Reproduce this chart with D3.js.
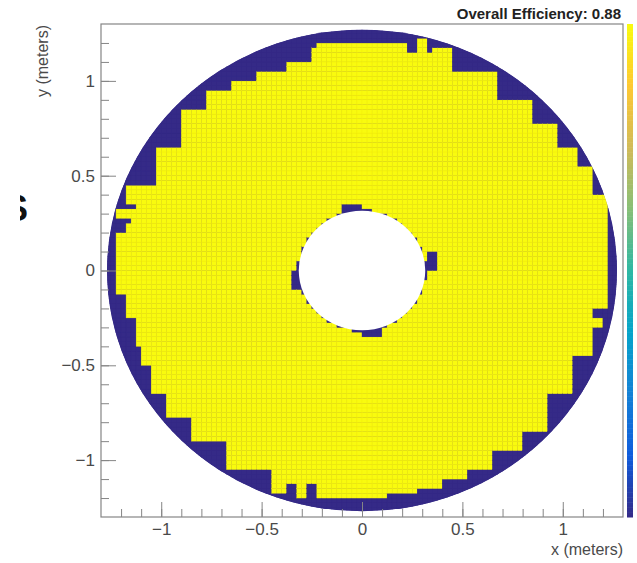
<!DOCTYPE html>
<html>
<head>
<meta charset="utf-8">
<script src="https://cdn.jsdelivr.net/npm/d3@7"></script>
<style>
body { margin: 0; background: #fff; }
svg { display: block; }
text { font-family: "Liberation Sans", Arial, Helvetica, sans-serif; }
</style>
</head>
<body>
<div id="chart"></div>
<script>
// detector efficiency map, square bins of 0.025 m
var binSize = 0.025;
var rOuter = 1.27;
var rInner = 0.315;
var overallEff = 0.88;

// left edge of the efficient region: band top (m) -> left x (m)
var leftTop = [1.218, 1.203, 1.166, 1.097, 1.050, 1.007, 0.955, 0.839, 0.654, 0.454, 0.359, 0.322, 0.280,
  0.243, 0.200, -0.127, -0.258, -0.390, -0.512, -0.643, -0.775, -0.907, -1.039, -1.166, -1.192];
var leftX = [0.279, -0.219, -0.249, -0.383, -0.518, -0.647, -0.782, -0.906, -1.031, -1.165, -1.130, -1.215, -1.140,
  -1.180, -1.215, -1.170, -1.130, -1.091, -1.046, -0.971, -0.842, -0.667, -0.448, -0.324, -0.184];

// right edge of the efficient region: band top (m) -> right x (m)
var rightTop = [1.218, 1.166, 1.050, 0.902, 0.781, 0.654, 0.549, 0.411, -0.206, -0.248, -0.311,
  -0.454, -0.654, -0.849, -0.960, -1.050, -1.092, -1.139, -1.171];
var rightX = [0.329, 0.453, 0.677, 0.842, 0.976, 1.066, 1.160, 1.225, 1.140, 1.210, 1.150,
  1.061, 0.926, 0.792, 0.662, 0.528, 0.393, 0.264, 0.129];
var liveBottom = -1.208;

// dead patches inside the efficient region [x0, x1, y0, y1] (m)
var deadPatches = [
  [0.219, 0.279, 1.139, 1.203],
  [0.329, 0.354, 1.139, 1.166],
  [-0.369, -0.324, -1.192, -1.129],
  [-0.274, -0.234, -1.192, -1.134],
  [-0.095, -0.010, 0.311, 0.359],
  [0.324, 0.364, 0.005, 0.100],
  [-0.349, -0.309, -0.100, -0.011],
  [0.005, 0.100, -0.353, -0.311]
];

// ROOT kBird palette
var birdColors = ["#352a87", "#0f5cdd", "#1481d6", "#06a4ca", "#2eb7a4", "#87bf77", "#d1bb59", "#fec832", "#f9fb0e"];

var xMajorTicks = [-1, -0.5, 0, 0.5, 1];
var yMajorTicks = [-1, -0.5, 0, 0.5, 1];
var minorTicks = d3.range(-12, 13).map(function(d) { return d / 10; });

var width = 637, height = 563;

var svg = d3.select('#chart')
  .append('svg')
  .attr('width', width)
  .attr('height', height);

var x = d3.scaleLinear().domain([-1.3, 1.3]).range([101, 623]);
var y = d3.scaleLinear().domain([-1.3, 1.3]).range([517, 24]);
var color = d3.scaleSequential(d3.piecewise(d3.interpolateRgb, birdColors)).domain([0, 1]);

function bandValue(tops, xs, yy) {
  for (var k = 0; k < tops.length; k++) {
    var next = (k + 1 < tops.length) ? tops[k + 1] : liveBottom;
    if (yy <= tops[k] && yy > next) return xs[k];
  }
  return null;
}

function clamp(v, a, b) { return Math.max(a, Math.min(b, v)); }

// build the bins
var cells = [];
var nBins = Math.round(2.6 / binSize);
for (var i = 0; i < nBins; i++) {
  for (var j = 0; j < nBins; j++) {
    var x0 = -1.3 + i * binSize, x1 = x0 + binSize;
    var y0 = -1.3 + j * binSize, y1 = y0 + binSize;
    var near = Math.hypot(clamp(0, x0, x1), clamp(0, y0, y1));
    var far = Math.max(Math.hypot(x0, y0), Math.hypot(x1, y0), Math.hypot(x0, y1), Math.hypot(x1, y1));
    if (near > rOuter || far < rInner) continue;
    var cx = x0 + binSize / 2, cy = y0 + binSize / 2;
    var eff = 0;
    if (Math.hypot(cx, cy) >= rInner) {
      var xl = bandValue(leftTop, leftX, cy);
      var xr = bandValue(rightTop, rightX, cy);
      if (xl !== null && xr !== null && cx >= xl && cx <= xr) eff = 1;
      deadPatches.forEach(function(p) {
        if (cx > p[0] && cx < p[1] && cy > p[2] && cy < p[3]) eff = 0;
      });
    }
    cells.push({x0: x0, x1: x1, y0: y0, y1: y1, eff: eff});
  }
}

// clip to the detector disc
var defs = svg.append('defs');
defs.append('clipPath').attr('id', 'disc')
  .append('ellipse')
    .attr('cx', x(0)).attr('cy', y(0))
    .attr('rx', x(rOuter) - x(0)).attr('ry', y(0) - y(rOuter));
defs.append('clipPath').attr('id', 'cut')
  .append('rect').attr('x', 20).attr('y', 0).attr('width', 40).attr('height', 563);

var map = svg.append('g').attr('clip-path', 'url(#disc)');

map.append('ellipse')
  .attr('cx', x(0)).attr('cy', y(0))
  .attr('rx', x(rOuter) - x(0)).attr('ry', y(0) - y(rOuter))
  .attr('fill', color(0));

map.selectAll('rect.cell')
  .data(cells)
  .enter().append('rect')
    .attr('class', 'cell')
    .attr('x', function(d) { return x(d.x0); })
    .attr('y', function(d) { return y(d.y1); })
    .attr('width', function(d) { return x(d.x1) - x(d.x0); })
    .attr('height', function(d) { return y(d.y0) - y(d.y1); })
    .attr('fill', function(d) { return color(d.eff); })
    .attr('stroke', function(d) { return d.eff > 0.5 ? '#f2ea0d' : color(d.eff); })
    .attr('stroke-width', 0.35);

// beam hole
svg.append('ellipse')
  .attr('cx', x(0)).attr('cy', y(0))
  .attr('rx', x(rInner) - x(0)).attr('ry', y(0) - y(rInner))
  .attr('fill', '#fff');

// axes, ROOT style ticks pointing inwards
var fmt = d3.format('~g');
var axisColor = '#858585';

function styleAxis(g, fontSize) {
  g.select('.domain').remove();
  g.selectAll('line').attr('stroke', axisColor).attr('stroke-width', 1);
  g.selectAll('text').attr('fill', '#4a4a4a').style('font-size', fontSize + 'px')
    .style('font-family', '"Liberation Sans", Arial, sans-serif');
}

svg.append('g').attr('transform', 'translate(0,517)')
  .call(d3.axisBottom(x).tickValues(minorTicks).tickSize(-8).tickFormat(''))
  .call(styleAxis, 17);
svg.append('g').attr('transform', 'translate(0,517)')
  .call(d3.axisBottom(x).tickValues(xMajorTicks).tickSize(-15).tickPadding(6).tickFormat(fmt))
  .call(styleAxis, 17);
svg.append('g').attr('transform', 'translate(101,0)')
  .call(d3.axisLeft(y).tickValues(minorTicks).tickSize(-8).tickFormat(''))
  .call(styleAxis, 17);
svg.append('g').attr('transform', 'translate(101,0)')
  .call(d3.axisLeft(y).tickValues(yMajorTicks).tickSize(-15).tickPadding(6).tickFormat(fmt))
  .call(styleAxis, 17);

// frame
svg.append('rect')
  .attr('x', 101).attr('y', 24)
  .attr('width', 522).attr('height', 493)
  .attr('fill', 'none')
  .attr('stroke', axisColor)
  .attr('stroke-width', 1.2);

// colour bar
var zScale = d3.scaleLinear().domain([0, 1]).range([517, 24]);
svg.append('g').selectAll('rect')
  .data(d3.range(0, 1, 0.005))
  .enter().append('rect')
    .attr('x', 627)
    .attr('y', function(d) { return zScale(d + 0.005); })
    .attr('width', 6)
    .attr('height', function(d) { return zScale(d) - zScale(d + 0.005) + 0.5; })
    .attr('fill', function(d) { return color(d + 0.0025); });

// titles
svg.append('text')
  .attr('x', 621).attr('y', 19)
  .attr('text-anchor', 'end')
  .attr('fill', '#222')
  .style('font-size', '15px')
  .style('font-weight', 'bold')
  .text('Overall Efficiency: ' + overallEff.toFixed(2));

svg.append('text')
  .attr('x', 623).attr('y', 555)
  .attr('text-anchor', 'end')
  .attr('fill', '#4a4a4a')
  .style('font-size', '16px')
  .text('x (meters)');

svg.append('text')
  .attr('transform', 'translate(48,25) rotate(-90)')
  .attr('text-anchor', 'end')
  .attr('fill', '#4a4a4a')
  .style('font-size', '16px')
  .text('y (meters)');

// stray glyph cut off at the left of the slide
svg.append('text')
  .attr('x', 4).attr('y', 221)
  .attr('clip-path', 'url(#cut)')
  .attr('fill', '#111')
  .style('font-size', '36px')
  .style('font-weight', 'bold')
  .text('S');
</script>
</body>
</html>
